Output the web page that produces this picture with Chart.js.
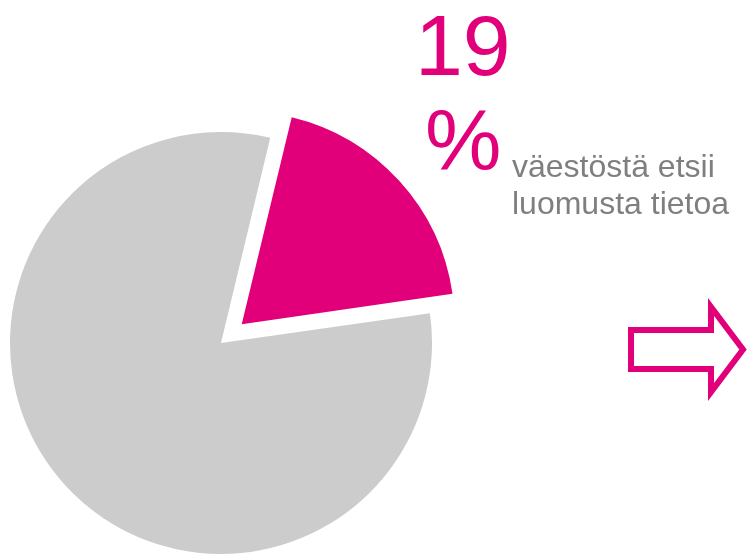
<!DOCTYPE html>
<html>
<head>
<meta charset="utf-8">
<script src="https://cdn.jsdelivr.net/npm/chart.js@4/dist/chart.umd.min.js"></script>
<style>
  body { margin: 0; background: #fff; }
  #wrap { position: relative; width: 748px; height: 555px; overflow: hidden; }
  #pie { position: absolute; left: 0; top: 0; }
  .txt { position: absolute; font-family: "Liberation Sans", Arial, sans-serif; white-space: nowrap; }
  .big { color: #e2007a; font-size: 86px; line-height: 86px; }
  .note { color: #7f7f7f; font-size: 32px; line-height: 37px; }
</style>
</head>
<body>
<div id="wrap">
  <canvas id="pie" width="748" height="555"></canvas>
  <div class="txt big" style="left:415px; top:2px;">19</div>
  <div class="txt big" style="left:425px; top:97px;">%</div>
  <div class="txt note" style="left:512px; top:148px;">väestöstä etsii<br>luomusta tietoa</div>
</div>
<script>
"use strict";

const labels = ["etsii luomusta tietoa", "muut"];
const shares = [19, 81];
const colors = ["#e2007a", "#cccccc"];
// Chart.js moves an arc by about offset/4, so 112 gives the ~30px pull-out
const offsets = [112, 0];

// outline arrow pointing right, drawn on the canvas after the pie
const arrowPlugin = {
  id: "arrow",
  afterDraw(chart) {
    const ctx = chart.ctx;
    ctx.save();
    ctx.strokeStyle = "#e2007a";
    ctx.lineWidth = 6;
    ctx.lineJoin = "miter";
    ctx.beginPath();
    ctx.moveTo(631, 330);
    ctx.lineTo(711, 330);
    ctx.lineTo(711, 307);
    ctx.lineTo(743, 349.5);
    ctx.lineTo(711, 392);
    ctx.lineTo(711, 369);
    ctx.lineTo(631, 369);
    ctx.closePath();
    ctx.stroke();
    ctx.restore();
  }
};

const data = {
  labels: labels,
  datasets: [{
    data: shares,
    backgroundColor: colors,
    borderWidth: 0,
    offset: offsets,
    radius: 211,
    clip: false
  }]
};

const config = {
  type: "pie",
  data: data,
  options: {
    responsive: false,
    animation: false,
    rotation: 13.5,
    layout: { padding: { left: 0, right: 306, top: 131, bottom: 0 } },
    plugins: {
      legend: { display: false },
      tooltip: { enabled: false }
    }
  },
  plugins: [arrowPlugin]
};

const myChart = new Chart(document.getElementById("pie"), config);
</script>
</body>
</html>
